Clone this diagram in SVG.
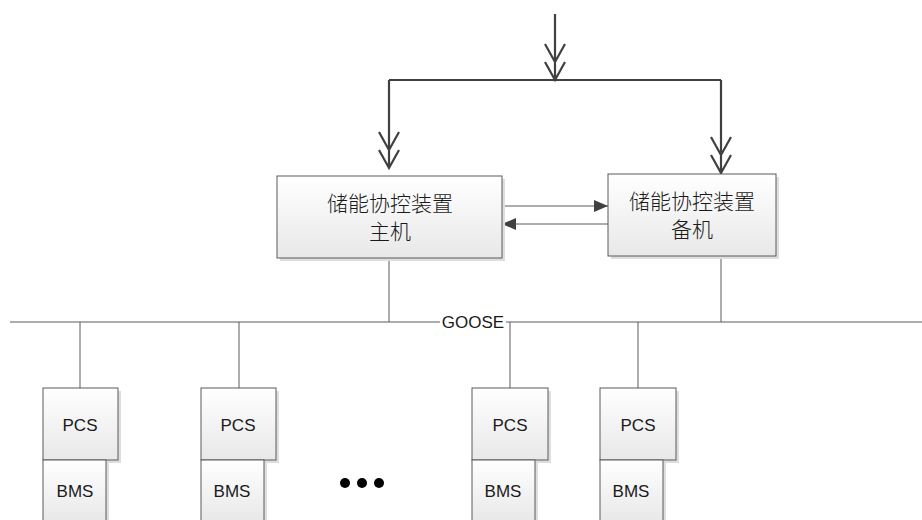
<svg xmlns="http://www.w3.org/2000/svg" width="922" height="520" viewBox="0 0 922 520">
<defs>
<linearGradient id="g" x1="0" y1="0" x2="0" y2="1">
<stop offset="0" stop-color="#ffffff"/>
<stop offset="1" stop-color="#e8e8e8"/>
</linearGradient>
<marker id="tri" viewBox="0 0 14 12" refX="14" refY="6" markerWidth="14" markerHeight="12" markerUnits="userSpaceOnUse" orient="auto">
<path d="M0,0 L14,6 L0,12 Z" fill="#404040"/>
</marker>
</defs>
<style>
.box{fill:url(#g);stroke:#5a5a5a;stroke-width:1}
.sh{fill:#dedede}
.thick{fill:none;stroke:#404040;stroke-width:2.2}
.thin{fill:none;stroke:#5a5a5a;stroke-width:1}
.cn{font-family:"Noto Sans CJK SC","Liberation Sans",sans-serif;font-size:21px;font-weight:300;fill:#1a1a1a;text-anchor:middle}
.lb{font-family:"Liberation Sans","Noto Sans",sans-serif;font-size:17px;fill:#1a1a1a;text-anchor:middle}
</style>
<g id="connectors">
<path class="thick" d="M555,14 V80 M545,44 L555,62 L565,44 M545,62 L555,80 L565,62"/>
<path class="thick" d="M389,80 H721 M389,80 V168 M379,132 L389,150 L399,132 M379,150 L389,168 L399,150"/>
<path class="thick" d="M721,80 V174 M711,137 L721,155 L731,137 M711,155 L721,173 L731,155"/>
<line class="thin" x1="502" y1="206" x2="608" y2="206" marker-end="url(#tri)"/>
<line class="thin" x1="608" y1="224" x2="502" y2="224" marker-end="url(#tri)"/>
<path class="thin" d="M10,322 H440 M506,322 H922"/>
<path class="thin" d="M389,258 V322 M721,256 V322"/>
<path class="thin" d="M80,322 V388 M239,322 V388 M510,322 V388 M638,322 V388"/>
</g>
<g id="main">
<rect class="sh" x="280" y="179" width="225" height="82"/>
<rect class="box" x="277" y="176" width="225" height="82"/>
<text class="cn" x="390" y="211">储能协控装置</text>
<text class="cn" x="390" y="239">主机</text>
</g>
<g id="backup">
<rect class="sh" x="611" y="177" width="168" height="82"/>
<rect class="box" x="608" y="174" width="168" height="82"/>
<text class="cn" x="692" y="209">储能协控装置</text>
<text class="cn" x="692" y="237">备机</text>
</g>
<g id="goose">
<text class="lb" x="473" y="328">GOOSE</text>
</g>
<g id="unit1">
<rect class="sh" x="46" y="391" width="75" height="72"/>
<rect class="box" x="43" y="388" width="75" height="72"/>
<text class="lb" x="80" y="431">PCS</text>
<rect class="sh" x="46" y="463" width="63" height="60"/>
<rect class="box" x="43" y="460" width="63" height="62"/>
<text class="lb" x="75" y="497">BMS</text>
</g>
<g id="unit2">
<rect class="sh" x="204" y="391" width="75" height="72"/>
<rect class="box" x="201" y="388" width="75" height="72"/>
<text class="lb" x="238" y="431">PCS</text>
<rect class="sh" x="204" y="463" width="63" height="60"/>
<rect class="box" x="201" y="460" width="63" height="62"/>
<text class="lb" x="232" y="497">BMS</text>
</g>
<g id="unit3">
<rect class="sh" x="475" y="391" width="76" height="72"/>
<rect class="box" x="472" y="388" width="76" height="72"/>
<text class="lb" x="510" y="431">PCS</text>
<rect class="sh" x="475" y="463" width="63" height="60"/>
<rect class="box" x="472" y="460" width="63" height="62"/>
<text class="lb" x="503" y="497">BMS</text>
</g>
<g id="unit4">
<rect class="sh" x="603" y="391" width="76" height="72"/>
<rect class="box" x="600" y="388" width="76" height="72"/>
<text class="lb" x="638" y="431">PCS</text>
<rect class="sh" x="603" y="463" width="63" height="60"/>
<rect class="box" x="600" y="460" width="63" height="62"/>
<text class="lb" x="631" y="497">BMS</text>
</g>
<g id="ellipsis" fill="#000">
<circle cx="345" cy="483" r="5"/>
<circle cx="362" cy="483" r="5"/>
<circle cx="379" cy="483" r="5"/>
</g>
</svg>
